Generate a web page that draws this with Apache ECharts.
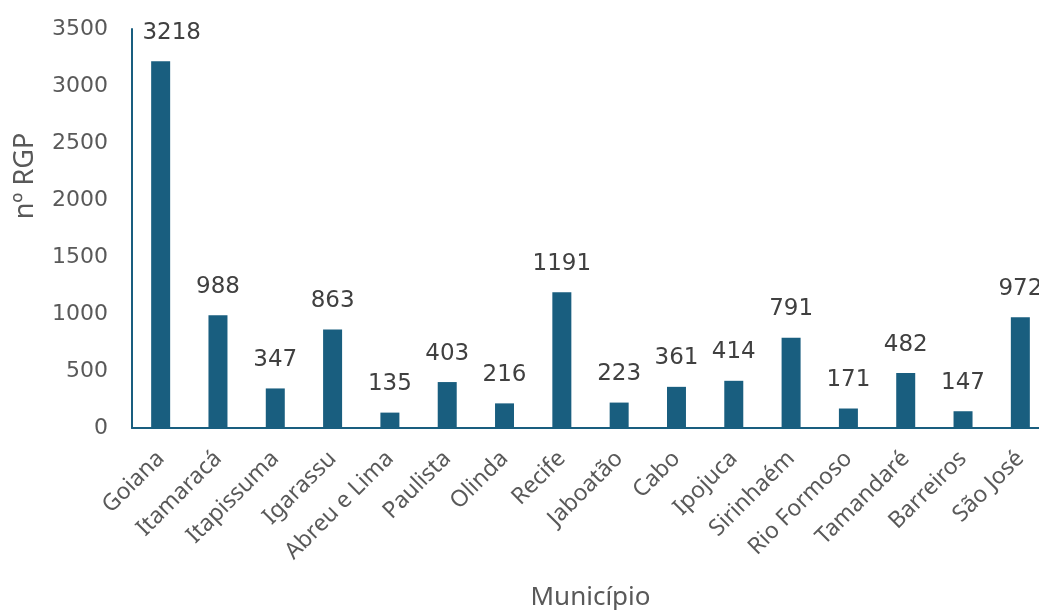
<!DOCTYPE html>
<html><head><meta charset="utf-8">
<script src="https://cdn.jsdelivr.net/npm/echarts@6/dist/echarts.min.js"></script>
<style>html,body{margin:0;padding:0;background:#fff}#c{width:1039px;height:610px}</style>
</head><body><div id="c"></div>
<script>
const categories = ["Goiana","Itamaracá","Itapissuma","Igarassu","Abreu e Lima","Paulista","Olinda","Recife","Jaboatão","Cabo","Ipojuca","Sirinhaém","Rio Formoso","Tamandaré","Barreiros","São José"];
const values = [3218,988,347,863,135,403,216,1191,223,361,414,791,171,482,147,972];
const yTicks = {min:0, max:3500, interval:500};
const xTitle = "Município";
const yTitle = "nº RGP";

const teal = "#195E7F";
const chart = echarts.init(document.getElementById('c'), null, {renderer:'canvas'});
const seriesData = values.map(function(v, i){
  return i === 0 ? {value:v, label:{offset:[11,0]}} : v;
});
chart.setOption({
  animation:false,
  grid:{left:132, top:29, width:917, height:399, containLabel:false, outerBoundsMode:'none'},
  xAxis:{
    type:'category', data:categories,
    name:xTitle, nameLocation:'middle', nameGap:157,
    nameTextStyle:{fontSize:26, color:'#595959', fontFamily:'Noto Sans'},
    axisLine:{show:true, lineStyle:{color:teal, width:2}},
    axisTick:{show:false},
    axisLabel:{rotate:45, fontSize:23, color:'#595959', fontFamily:'Noto Sans', margin:27, interval:0}
  },
  yAxis:{
    type:'value', min:yTicks.min, max:yTicks.max, interval:yTicks.interval,
    axisLine:{show:true, lineStyle:{color:teal, width:2}},
    axisTick:{show:false},
    splitLine:{show:false},
    axisLabel:{fontSize:22, color:'#595959', fontFamily:'DejaVu Sans', margin:24, formatter:function(v){return String(v);}}
  },
  graphic:[{
    type:'text', x:25, y:176, rotation:Math.PI/2,
    style:{text:yTitle, font:'27px "Noto Sans"', fill:'#595959', align:'center', verticalAlign:'middle'}
  }],
  series:[{
    type:'bar', data:seriesData, barWidth:19,
    itemStyle:{color:teal},
    label:{show:true, position:'top', distance:17, fontSize:23, color:'#404040', fontFamily:'DejaVu Sans'}
  }]
});
</script></body></html>
